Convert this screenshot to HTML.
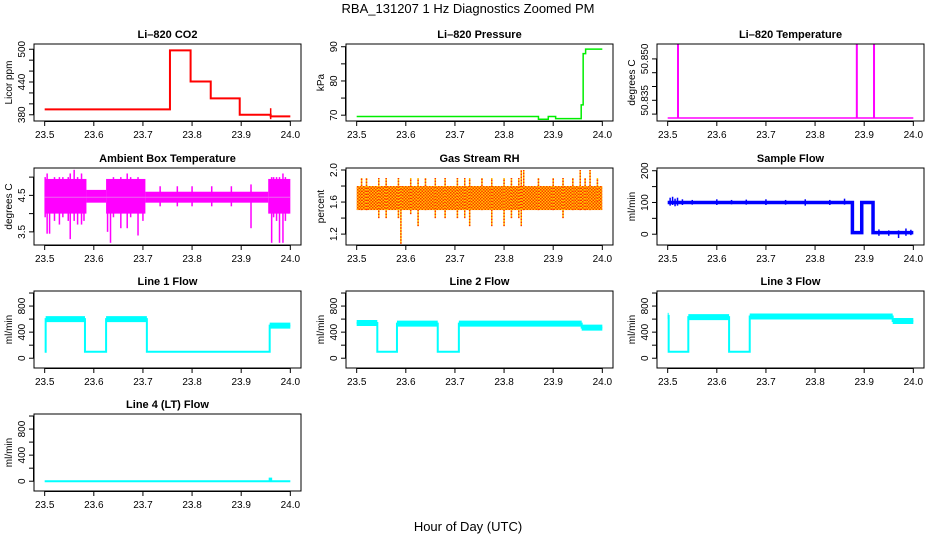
<!DOCTYPE html>
<html><head><meta charset="utf-8"><style>
html,body{margin:0;padding:0;background:#fff;}
svg{display:block;font-family:"Liberation Sans",sans-serif;}
</style></head><body>
<svg id="chart" width="936" height="540" viewBox="0 0 936 540">
<text x="468" y="13" text-anchor="middle" font-size="13">RBA_131207  1 Hz Diagnostics Zoomed PM</text>
<text x="468" y="531" text-anchor="middle" font-size="13">Hour of Day (UTC)</text>
</svg>
<script>
const xTicks=[23.5,23.6,23.7,23.8,23.9,24.0];
// CO2
const co2Breaks=[23.5,23.755,23.797,23.838,23.897,23.96,24.0];
const co2Levels=[390,498,441,410,380,377];
// Pressure
const pressBreaks=[23.5,23.87,23.89,23.905,23.957,23.961,23.966,24.0];
const pressLevels=[69.6,68.8,69.6,69.0,73,88,89.3];
// Li-820 temperature
const tempBase=50.8286;
const tempSpikeX=[23.521,23.885,23.92];
const tempSpikeTop=[50.8552,50.8552,50.8552];
// Ambient box temperature
const ambBreaks=[23.5,23.585,23.625,23.705,23.955,24.0];
const ambLo=[4.0,4.3,4.0,4.3,4.0];
const ambHi=[4.95,4.65,4.95,4.6,4.95];
const ambSpikeX=[23.501,23.505,23.51,23.52,23.53,23.537,23.548,23.552,23.56,23.567,23.575,23.58,23.628,23.634,23.64,23.655,23.668,23.675,23.69,23.7,23.735,23.77,23.8,23.84,23.88,23.92,23.962,23.966,23.972,23.978,23.985,23.99,23.996];
const ambSpikeLo=[3.9,3.45,3.45,3.8,3.7,3.9,3.8,3.3,3.8,3.7,3.7,3.8,3.5,3.2,3.9,3.6,3.6,3.9,3.4,3.8,4.2,4.2,4.2,4.2,4.2,3.6,3.2,3.9,3.8,3.2,3.2,3.8,4.0];
const ambSpikeHi=[5.0,5.1,4.9,5.0,5.0,5.0,5.0,5.1,5.2,5.0,5.1,4.9,4.9,4.9,5.0,5.0,5.1,5.0,5.0,4.9,4.75,4.75,4.75,4.75,4.75,4.8,5.0,5.0,5.0,5.0,5.1,5.0,4.9];
// Gas stream RH
const rhLo=1.5, rhHi=1.8;
const rhSpikeX=[23.51,23.52,23.545,23.56,23.585,23.59,23.61,23.625,23.64,23.66,23.68,23.705,23.72,23.73,23.755,23.775,23.8,23.815,23.83,23.835,23.84,23.87,23.9,23.92,23.94,23.955,23.965,23.975,23.99];
const rhSpikeLo=[1.5,1.5,1.4,1.4,1.4,1.08,1.45,1.3,1.5,1.4,1.4,1.4,1.4,1.3,1.5,1.3,1.3,1.4,1.4,1.3,1.5,1.5,1.5,1.4,1.5,1.5,1.5,1.5,1.6];
const rhSpikeHi=[1.9,1.9,1.9,1.9,1.9,1.8,1.9,1.9,1.9,1.9,1.9,1.9,1.9,1.9,1.9,1.9,1.9,1.9,1.9,2.0,2.0,1.9,1.9,1.9,1.9,2.0,1.9,2.0,1.9];
// Sample flow
const sfBreaks=[23.5,23.876,23.895,23.918,24.0];
const sfLevels=[100,5,100,5];
const sfSpikeX=[23.505,23.51,23.515,23.52,23.53,23.55,23.6,23.63,23.66,23.7,23.74,23.78,23.83,23.86,23.93,23.95,23.97,23.985,23.995];
const sfSpikeLo=[90,92,88,90,92,93,92,94,93,92,93,90,92,93,-5,-5,-12,-5,-3];
const sfSpikeHi=[115,118,112,115,110,108,110,108,109,110,108,110,108,112,15,12,12,18,14];
// Line flows
const l1Breaks=[23.5,23.502,23.582,23.625,23.708,23.958,24.0];
const l1Levels=[100,600,100,600,100,500];
const l2Breaks=[23.5,23.542,23.582,23.665,23.708,23.958,24.0];
const l2Levels=[540,100,530,100,530,470];
const l3Breaks=[23.5,23.502,23.542,23.625,23.667,23.958,24.0];
const l3Levels=[650,100,630,100,640,570];
const l4Breaks=[23.5,23.958,23.961,24.0];
const l4Levels=[0,40,0];

const NS='http://www.w3.org/2000/svg';
const svg=document.getElementById('chart');
function mk(tag,attrs,parent){const e=document.createElementNS(NS,tag);for(const k in attrs)e.setAttribute(k,attrs[k]);(parent||svg).appendChild(e);return e;}

const colL=[34,346,657], rowT=[44,168,291,414], PW=267, PH=77;
function panel(col,row,title,ylab,ymin,ymax,yTicks,yLabels,name){
  const L=colL[col],T=rowT[row];
  const g=mk('g',{});
  
  
  const xs=v=>L+PW*0.04+(v-23.5)/0.5*PW*0.92;
  const ys=v=>T+PH-(v-ymin)/(ymax-ymin)*PH;
  const t=mk('text',{x:L+PW/2,y:T-6,'text-anchor':'middle','font-size':11,'font-weight':'bold'},g);t.textContent=title;
  
  const box=mk('rect',{x:L,y:T,width:PW,height:PH,fill:'none',stroke:'#000','stroke-width':1},g);
  
  const xa=mk('g',{},g);
  mk('line',{x1:xs(23.5),x2:xs(24),y1:T+PH+0.5,y2:T+PH+0.5,stroke:'#000'},xa);
  xTicks.forEach(v=>{mk('line',{x1:xs(v),x2:xs(v),y1:T+PH,y2:T+PH+5,stroke:'#000'},xa);
    const tx=mk('text',{x:xs(v),y:T+PH+17,'text-anchor':'middle','font-size':10},xa);tx.textContent=v.toFixed(1);});
  const ya=mk('g',{},g);
  mk('line',{x1:L-0.5,x2:L-0.5,y1:ys(yTicks[0]),y2:ys(yTicks[yTicks.length-1]),stroke:'#000'},ya);
  yTicks.forEach(v=>mk('line',{x1:L-5,x2:L,y1:ys(v),y2:ys(v),stroke:'#000'},ya));
  yLabels.forEach(lab=>{const yy=ys(parseFloat(lab));const tx=mk('text',{x:L-9,y:yy,'text-anchor':'middle','font-size':10,transform:`rotate(-90 ${L-9} ${yy})`},ya);tx.textContent=lab;});
  const yt=mk('text',{x:L-22,y:T+PH/2,'text-anchor':'middle','font-size':10,transform:`rotate(-90 ${L-22} ${T+PH/2})`},g);yt.textContent=ylab;
  
  const data=mk('g',{},g);
  return {xs,ys,g:data};
}
function step(p,breaks,levels,color,w){
  let d=`M${p.xs(breaks[0])},${p.ys(levels[0])}`;
  for(let i=0;i<levels.length;i++){d+=` V${p.ys(levels[i])} H${p.xs(breaks[i+1])}`;}
  const e=mk('path',{d,fill:'none',stroke:color,'stroke-width':w},p.g);
  
}
function flowStep(p,breaks,levels,color){
  step(p,breaks,levels,color,2);
  levels.forEach((v,i)=>{if(v>300){const e=mk('line',{x1:p.xs(breaks[i]),x2:p.xs(breaks[i+1]),y1:p.ys(v),y2:p.ys(v),stroke:color,'stroke-width':6},p.g);
    }});
}
function spikes(p,xsArr,lo,hi,color,w,dash){
  xsArr.forEach((x,i)=>{const e=mk('line',{x1:p.xs(x),x2:p.xs(x),y1:p.ys(lo[i]),y2:p.ys(hi[i]),stroke:color,'stroke-width':w},p.g);
    if(dash)e.setAttribute('stroke-dasharray',dash);
    });
}

// CO2
let p=panel(0,0,'Li\u2013820 CO2','Licor ppm',368.6,509.6,[380,400,420,440,460,480,500],['380','440','500'],'co2');
step(p,co2Breaks,co2Levels,'#ff0000',2);
spikes(p,[23.96],[372],[392],'#ff0000',1.5);
// Pressure
p=panel(1,0,'Li\u2013820 Pressure','kPa',68.3,90.8,[70,75,80,85,90],['70','80','90'],'pressure');
step(p,pressBreaks,pressLevels,'#00ee00',1.5);
// Temperature
p=panel(2,0,'Li\u2013820 Temperature','degrees C',50.8275,50.8554,[50.830,50.835,50.840,50.845,50.850],['50.835','50.850'],'li820-temp');
step(p,[23.5,24.0],[tempBase],'#ff00ff',1.5);
spikes(p,tempSpikeX,tempSpikeX.map(()=>tempBase),tempSpikeTop,'#ff00ff',2);
// Ambient
p=panel(0,1,'Ambient Box Temperature','degrees C',3.14,5.25,[3.5,4.0,4.5,5.0],['3.5','4.5'],'ambient-temp');
ambLo.forEach((lo,i)=>{const r=mk('rect',{x:p.xs(ambBreaks[i]),y:p.ys(ambHi[i]),width:p.xs(ambBreaks[i+1])-p.xs(ambBreaks[i]),height:p.ys(lo)-p.ys(ambHi[i]),fill:'#ff00ff'},p.g);
  });
spikes(p,ambSpikeX,ambSpikeLo,ambSpikeHi,'#ff00ff',1.5);
step(p,[23.5,24.0],[4.45],'#ee66ee',1);
// RH
p=panel(1,1,'Gas Stream RH','percent',1.064,2.025,[1.2,1.4,1.6,1.8,2.0],['1.2','1.6','2.0'],'gas-rh');
const defs=mk('defs',{});
const pat=mk('pattern',{id:'chk',width:3,height:3,patternUnits:'userSpaceOnUse'},defs);
mk('rect',{x:0,y:0,width:3,height:3,fill:'#ffcc00'},pat);
mk('rect',{x:0,y:0,width:1.5,height:1.5,fill:'#ff3300'},pat);
mk('rect',{x:1.5,y:1.5,width:1.5,height:1.5,fill:'#ff3300'},pat);
const rb=mk('rect',{x:p.xs(23.5),y:p.ys(rhHi),width:p.xs(24)-p.xs(23.5),height:p.ys(rhLo)-p.ys(rhHi),fill:'url(#chk)'},p.g);

spikes(p,rhSpikeX,rhSpikeLo,rhSpikeHi,'#ffcc00',1.5);
spikes(p,rhSpikeX,rhSpikeLo,rhSpikeHi,'#ff3300',1.5,'1.5 1.5');
// Sample flow
p=panel(2,1,'Sample Flow','ml/min',-34,208.6,[0,50,100,150,200],['0','100','200'],'sample-flow');
step(p,sfBreaks,sfLevels,'#0000ff',3.5);
spikes(p,sfSpikeX,sfSpikeLo,sfSpikeHi,'#0000ff',1.5);
// Line flows
const lf=[[0,2,'Line 1 Flow',l1Breaks,l1Levels,'line1-flow'],[1,2,'Line 2 Flow',l2Breaks,l2Levels,'line2-flow'],[2,2,'Line 3 Flow',l3Breaks,l3Levels,'line3-flow'],[0,3,'Line 4 (LT) Flow',l4Breaks,l4Levels,'line4-flow']];
lf.forEach(c=>{p=panel(c[0],c[1],c[2],'ml/min',-150,1031,[0,200,400,600,800,1000],['0','400','800'],c[5]);
  flowStep(p,c[3],c[4],'#00ffff');});
</script>
</body></html>
